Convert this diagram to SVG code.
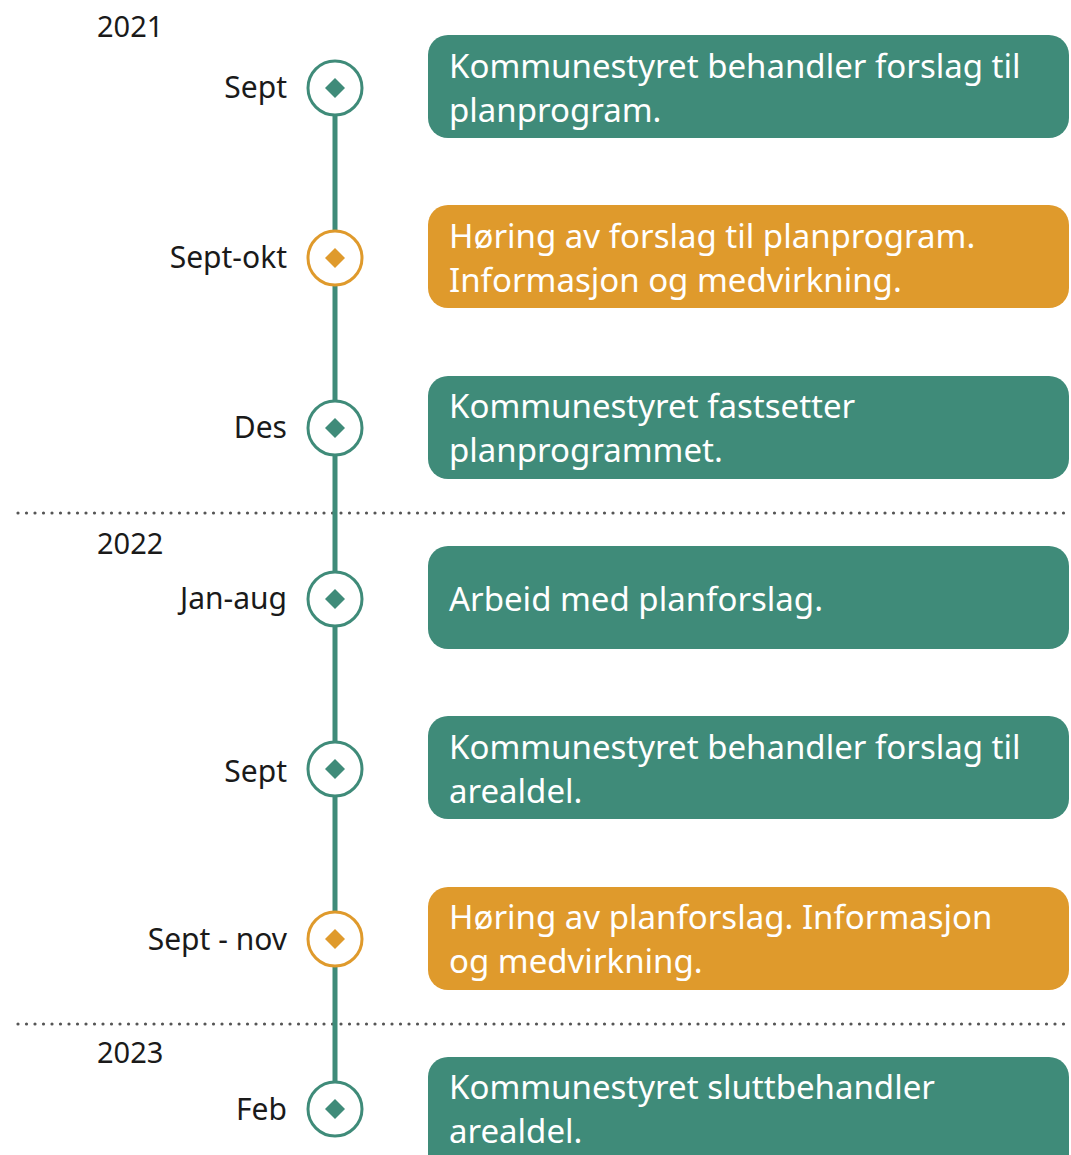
<svg xmlns="http://www.w3.org/2000/svg" width="1071" height="1155" viewBox="0 0 1071 1155">
<style>
.lbl{font-family:"Noto Sans","Open Sans",sans-serif;font-size:30px;fill:#1a1a1a}
.yr{font-family:"Noto Sans","Open Sans",sans-serif;font-size:29px;fill:#1a1a1a}
.bt{font-family:"Noto Sans","Open Sans",sans-serif;font-size:33px;fill:#ffffff}
.g{fill:#3f8b79}
.o{fill:#df9a2c}
.cg{fill:#ffffff;stroke:#3f8b79;stroke-width:3}
.co{fill:#ffffff;stroke:#df9a2c;stroke-width:3}
.dot{stroke:#555;stroke-width:3.2;stroke-linecap:round;stroke-dasharray:0 8.5;fill:none}
</style>
<rect width="1071" height="1155" fill="#ffffff"/>
<g id="separators">
<line class="dot" x1="18" y1="513" x2="1071" y2="513"/>
<line class="dot" x1="18" y1="1024" x2="1071" y2="1024"/>
</g>
<g id="connectors">
<line x1="335" y1="88" x2="335" y2="1109" stroke="#3f8b79" stroke-width="5"/>
</g>
<text class="yr" x="97" y="37">2021</text>
<text class="yr" x="97" y="554">2022</text>
<text class="yr" x="97" y="1063">2023</text>
<g id="n1">
<circle class="cg" cx="335" cy="88" r="27"/><path class="g" d="M335 78 L345 88 L335 98 L325 88Z"/>
<text class="lbl" x="287" y="98" text-anchor="end">Sept</text>
<rect class="g" x="428" y="35" width="641" height="103" rx="20"/>
<text class="bt" x="449" y="78">Kommunestyret behandler forslag til</text>
<text class="bt" x="449" y="122">planprogram.</text>
</g>
<g id="n2">
<circle class="co" cx="335" cy="258" r="27"/><path class="o" d="M335 248 L345 258 L335 268 L325 258Z"/>
<text class="lbl" x="287" y="268" text-anchor="end">Sept-okt</text>
<rect class="o" x="428" y="205" width="641" height="103" rx="20"/>
<text class="bt" x="449" y="248">Høring av forslag til planprogram.</text>
<text class="bt" x="449" y="292">Informasjon og medvirkning.</text>
</g>
<g id="n3">
<circle class="cg" cx="335" cy="428" r="27"/><path class="g" d="M335 418 L345 428 L335 438 L325 428Z"/>
<text class="lbl" x="287" y="438" text-anchor="end">Des</text>
<rect class="g" x="428" y="376" width="641" height="103" rx="20"/>
<text class="bt" x="449" y="418">Kommunestyret fastsetter</text>
<text class="bt" x="449" y="462">planprogrammet.</text>
</g>
<g id="n4">
<circle class="cg" cx="335" cy="599" r="27"/><path class="g" d="M335 589 L345 599 L335 609 L325 599Z"/>
<text class="lbl" x="287" y="609" text-anchor="end">Jan-aug</text>
<rect class="g" x="428" y="546" width="641" height="103" rx="20"/>
<text class="bt" x="449" y="611">Arbeid med planforslag.</text>
</g>
<g id="n5">
<circle class="cg" cx="335" cy="769" r="27"/><path class="g" d="M335 759 L345 769 L335 779 L325 769Z"/>
<text class="lbl" x="287" y="782" text-anchor="end">Sept</text>
<rect class="g" x="428" y="716" width="641" height="103" rx="20"/>
<text class="bt" x="449" y="759">Kommunestyret behandler forslag til</text>
<text class="bt" x="449" y="803">arealdel.</text>
</g>
<g id="n6">
<circle class="co" cx="335" cy="939" r="27"/><path class="o" d="M335 929 L345 939 L335 949 L325 939Z"/>
<text class="lbl" x="287" y="950" text-anchor="end">Sept - nov</text>
<rect class="o" x="428" y="887" width="641" height="103" rx="20"/>
<text class="bt" x="449" y="929">Høring av planforslag. Informasjon</text>
<text class="bt" x="449" y="973">og medvirkning.</text>
</g>
<g id="n7">
<circle class="cg" cx="335" cy="1109" r="27"/><path class="g" d="M335 1099 L345 1109 L335 1119 L325 1109Z"/>
<text class="lbl" x="287" y="1120" text-anchor="end">Feb</text>
<rect class="g" x="428" y="1057" width="641" height="120" rx="20"/>
<text class="bt" x="449" y="1099">Kommunestyret sluttbehandler</text>
<text class="bt" x="449" y="1143">arealdel.</text>
</g>
</svg>
